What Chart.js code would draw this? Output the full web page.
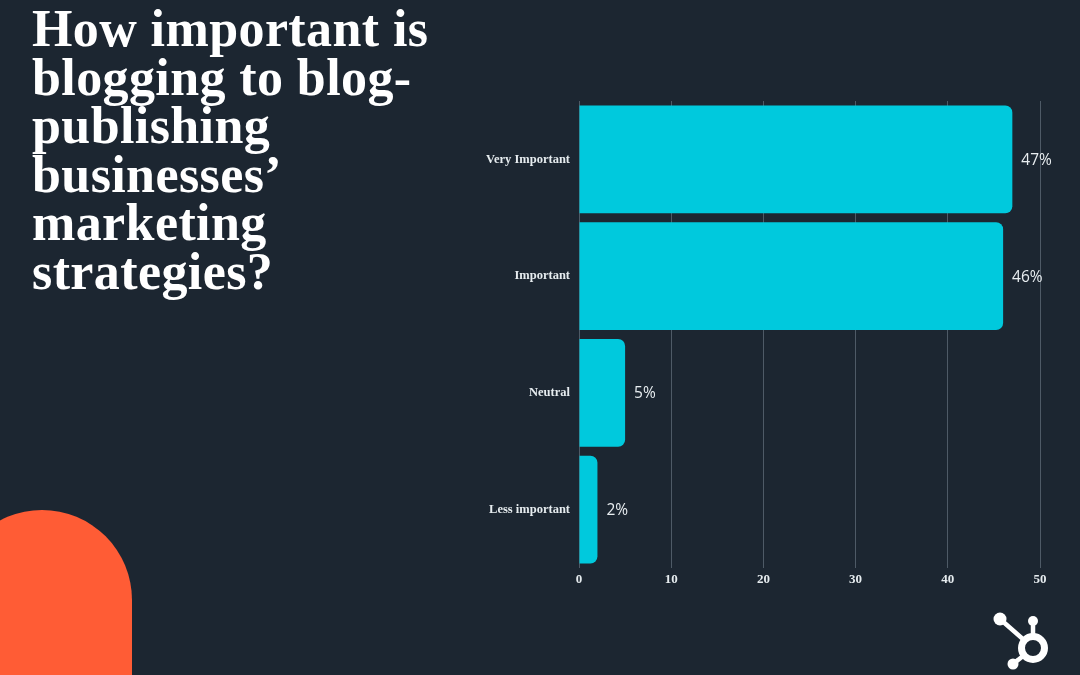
<!DOCTYPE html>
<html lang="en">
<head>
    <meta charset="UTF-8">
    <title>How important is blogging</title>
    <script src="https://cdn.jsdelivr.net/npm/chart.js"></script>
    <style>
        html, body { margin: 0; padding: 0; }
        body {
            width: 1080px; height: 675px; overflow: hidden; position: relative;
            background: #1c2631;
        }
        .title {
            position: absolute; left: 32px; top: 5px; margin: 0;
            font-family: 'Liberation Serif', serif; font-weight: 700;
            font-size: 52px; line-height: 48.6px; letter-spacing: 0.4px;
            color: #ffffff;
        }
        .blob {
            position: absolute; left: -48px; top: 510px; width: 180px; height: 220px;
            background: #ff5c35; border-radius: 90px 90px 0 0;
        }
        .chart-box {
            position: absolute; left: 470px; top: 92px; width: 600px; height: 501px;
        }
        .logo { position: absolute; left: 980px; top: 600px; }
    </style>
</head>
<body>

<h1 class="title">How important is<br>blogging to blog-<br>publishing<br>businesses’<br>marketing<br>strategies?</h1>
<div class="blob"></div>

<div class="chart-box">
    <canvas id="barChart"></canvas>
</div>

<svg class="logo" width="100" height="75" viewBox="0 0 100 75">
    <g stroke="#ffffff" stroke-width="4.5" stroke-linecap="round" fill="none">
        <line x1="53" y1="48" x2="20" y2="19"/>
        <line x1="53" y1="48" x2="53" y2="21"/>
        <line x1="53" y1="48" x2="33" y2="64"/>
    </g>
    <circle cx="53" cy="48" r="13" fill="#1c2631"/>
    <circle cx="53" cy="48" r="11.5" stroke="#ffffff" stroke-width="7" fill="none"/>
    <g fill="#ffffff">
        <circle cx="20" cy="19" r="6.5"/>
        <circle cx="53" cy="21" r="5"/>
        <circle cx="33" cy="64" r="5.5"/>
    </g>
</svg>

<script>
    const categories = ['Very Important', 'Important', 'Neutral', 'Less important'];
    const values = [47, 46, 5, 2];
    const xTicks = [0, 10, 20, 30, 40, 50];

    const serif = "'Liberation Serif', serif";

    // value labels at the end of each bar
    const valueLabels = {
        id: 'valueLabels',
        afterDatasetsDraw(chart) {
            const ctx = chart.ctx;
            const meta = chart.getDatasetMeta(0);
            ctx.save();
            ctx.font = "15.5px 'Open Sans', sans-serif";
            ctx.fillStyle = '#e9eef1';
            ctx.textAlign = 'left';
            ctx.textBaseline = 'middle';
            meta.data.forEach((bar, i) => {
                ctx.fillText(values[i] + '%', bar.x + 9, bar.y + 1);
            });
            ctx.restore();
        }
    };

    new Chart(document.getElementById('barChart'), {
        type: 'bar',
        data: {
            labels: categories,
            datasets: [{
                data: values,
                backgroundColor: '#00c9dd',
                borderRadius: 7,
                barPercentage: 0.925,
                categoryPercentage: 1
            }]
        },
        options: {
            indexAxis: 'y',
            responsive: true,
            maintainAspectRatio: false,
            animation: false,
            layout: { padding: { top: 9, right: 30, bottom: 0, left: 0 } },
            plugins: { legend: { display: false }, tooltip: { enabled: false } },
            scales: {
                x: {
                    min: 0, max: 50,
                    afterBuildTicks: (scale) => { scale.ticks = xTicks.map(v => ({ value: v })); },
                    afterFit: (scale) => { scale.height = 25; },
                    grid: { color: '#4e5a66', lineWidth: 1, drawTicks: false },
                    border: { display: false },
                    ticks: {
                        color: '#e6ecef', padding: 4,
                        font: { family: serif, weight: 'bold', size: 13 }
                    }
                },
                y: {
                    afterFit: (scale) => {
                        scale.width = 109;
                        scale.paddingTop = 0;
                        scale.paddingBottom = 0;
                    },
                    grid: { display: false, drawTicks: false },
                    border: { display: false },
                    ticks: {
                        color: '#e6ecef', padding: 9,
                        font: { family: serif, weight: 'bold', size: 12.5 }
                    }
                }
            }
        },
        plugins: [valueLabels]
    });
</script>
</body>
</html>
